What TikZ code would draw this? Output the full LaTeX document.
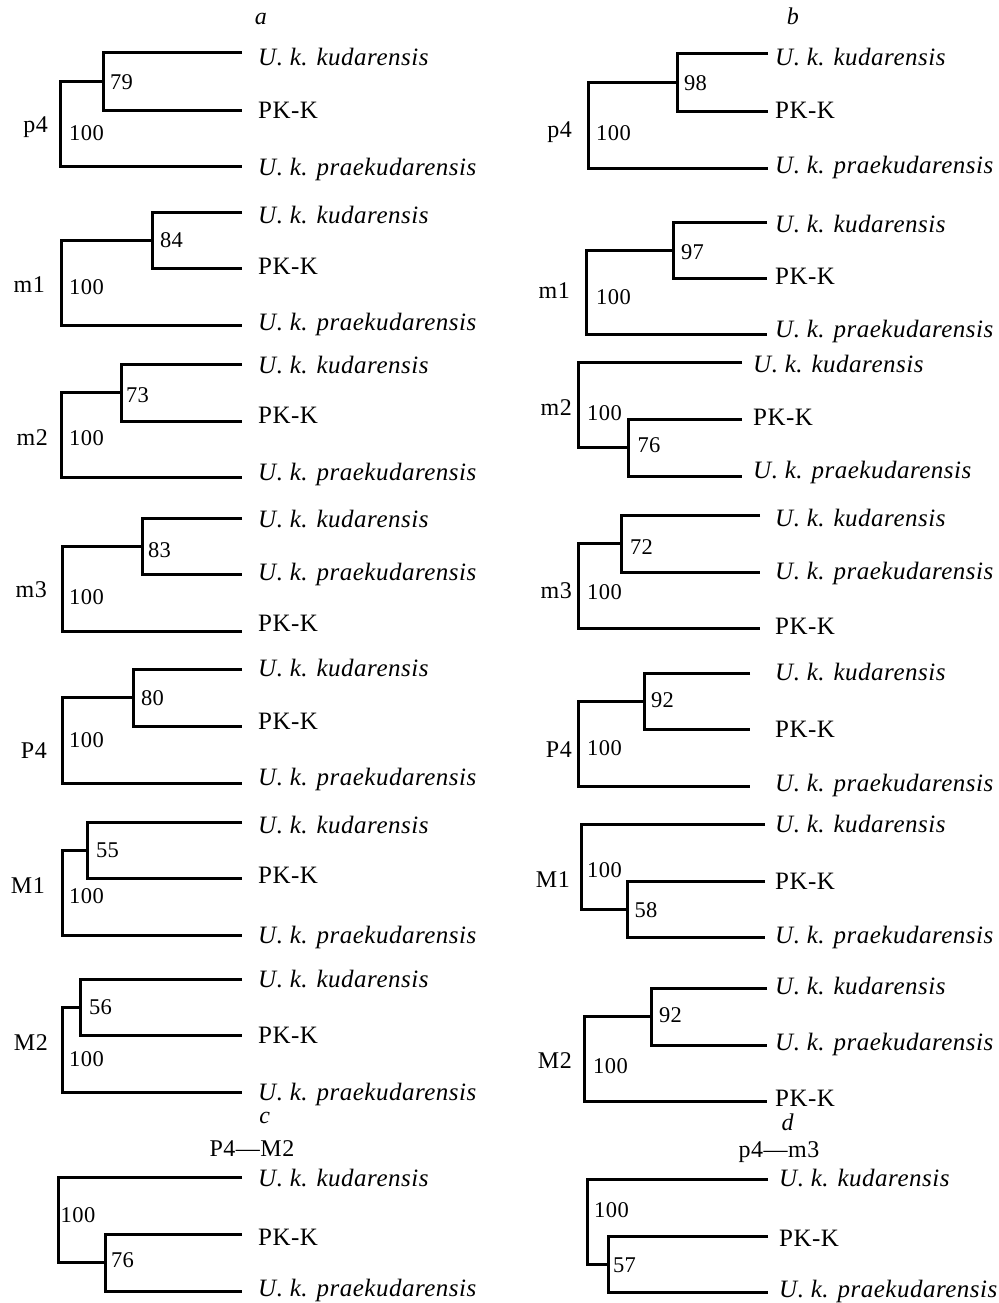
\documentclass[tikz,border=0pt]{standalone}
\usepackage{fontspec}
\setmainfont{Liberation Serif}[LetterSpace=2]
\newcommand\UKK{\textit{U. k. kudarensis}}
\newcommand\UKP{\textit{U. k. praekudarensis}}
\newcommand\PKK{PK-K}
% tips: name, tip end x, label x, y1, y2, y3, baseline offsets b1 b2 b3
\newcommand\tipsAt[9]{%
  \coordinate (#1t1) at (#2,#4);
  \coordinate (#1t2) at (#2,#5);
  \coordinate (#1t3) at (#2,#6);
  \coordinate (#1b1) at (#3,#4+#7);
  \coordinate (#1b2) at (#3,#5+#8);
  \coordinate (#1b3) at (#3,#6+#9);}
% labels: name, three texts
\newcommand\labs[4]{%
  \node[lab] (#1l1) at (#1b1) {#2};
  \node[lab] (#1l2) at (#1b2) {#3};
  \node[lab] (#1l3) at (#1b3) {#4};}
% ((1,2),3): name, xr, xi, yi, yr
\newcommand\treeA[5]{%
  \coordinate (#1i) at (#3,#4);
  \coordinate (#1r) at (#2,#5);
  \draw[br] (#1t1) -| (#1i) |- (#1t2);
  \draw[br] (#1i) -| (#1r) |- (#1t3);}
% (1,(2,3)): name, xr, xi, yi, yr
\newcommand\treeB[5]{%
  \coordinate (#1i) at (#3,#4);
  \coordinate (#1r) at (#2,#5);
  \draw[br] (#1t2) -| (#1i) |- (#1t3);
  \draw[br] (#1t1) -| (#1r) |- (#1i);}
\begin{document}
\begin{tikzpicture}[x=1pt,y=-1pt,
  br/.style={line width=3pt,line join=miter,black},
  lab/.style={anchor=base west,inner sep=0pt,font=\fontsize{25}{25}\selectfont},
  num/.style={anchor=center,inner sep=0pt,font=\fontsize{22.5}{22.5}\selectfont},
  pan/.style={anchor=base east,inner sep=0pt,font=\fontsize{24}{24}\selectfont},
  head/.style={anchor=base,inner sep=0pt,font=\fontsize{24}{24}\selectfont}]
\path[use as bounding box] (0,0) rectangle (998,1303);

% ---------- column a ----------
\node[head] (ha) at (261,25) {\textit{a}};
\tipsAt{ap4}{242}{258}{53}{111}{166}{13}{7}{9}
\labs{ap4}{\UKK}{\PKK}{\UKP}
\treeA{ap4}{60}{103}{82}{124}
\node[num] (ap4n1) at (121.5,82) {79};
\node[num] (ap4n2) at (86.5,133) {100};
\node[pan] (ap4p) at (48,132) {p4};

\tipsAt{am1}{242}{258}{212}{268}{325}{11}{6}{5}
\labs{am1}{\UKK}{\PKK}{\UKP}
\treeA{am1}{61}{152}{240}{282.5}
\node[num] (am1n1) at (171.5,240) {84};
\node[num] (am1n2) at (86.5,287) {100};
\node[pan] (am1p) at (45,292) {m1};

\tipsAt{am2}{242}{258}{364}{421}{477}{9}{2}{3}
\labs{am2}{\UKK}{\PKK}{\UKP}
\treeA{am2}{61}{121}{392.5}{434.75}
\node[num] (am2n1) at (137.5,395) {73};
\node[num] (am2n2) at (86.5,438) {100};
\node[pan] (am2p) at (48,445) {m2};

\tipsAt{am3}{242}{258}{518}{574}{631}{9}{6}{0}
\labs{am3}{\UKK}{\UKP}{\PKK}
\treeA{am3}{62}{142}{546}{588.5}
\node[num] (am3n1) at (159.5,550) {83};
\node[num] (am3n2) at (86.5,597) {100};
\node[pan] (am3p) at (47,597) {m3};

\tipsAt{aP4}{242}{258}{669}{726}{783}{7}{3}{2}
\labs{aP4}{\UKK}{\PKK}{\UKP}
\treeA{aP4}{62}{133}{697.5}{740.25}
\node[num] (aP4n1) at (152.5,698) {80};
\node[num] (aP4n2) at (86.5,740) {100};
\node[pan] (aP4p) at (47,758) {P4};

\tipsAt{aM1}{242}{258}{822}{878}{935}{11}{5}{8}
\labs{aM1}{\UKK}{\PKK}{\UKP}
\treeA{aM1}{62}{87}{850}{892.5}
\node[num] (aM1n1) at (107.5,850) {55};
\node[num] (aM1n2) at (86.5,896) {100};
\node[pan] (aM1p) at (45,893) {M1};

\tipsAt{aM2}{242}{258}{979}{1035}{1092}{8}{8}{8}
\labs{aM2}{\UKK}{\PKK}{\UKP}
\treeA{aM2}{62}{80}{1007}{1049.5}
\node[num] (aM2n1) at (100.5,1007) {56};
\node[num] (aM2n2) at (86.5,1059) {100};
\node[pan] (aM2p) at (48,1050) {M2};

% ---------- column b ----------
\node[head] (hb) at (793,25) {\textit{b}};
\tipsAt{bp4}{768}{775}{54}{112}{168}{12}{7}{5}
\labs{bp4}{\UKK}{\PKK}{\UKP}
\treeA{bp4}{588}{677}{83}{125.5}
\node[num] (bp4n1) at (695.5,83) {98};
\node[num] (bp4n2) at (613.5,133) {100};
\node[pan] (bp4p) at (572,137) {p4};

\tipsAt{bm1}{767}{775}{222}{278}{334}{10}{6}{3}
\labs{bm1}{\UKK}{\PKK}{\UKP}
\treeA{bm1}{586}{673}{250}{292}
\node[num] (bm1n1) at (692.5,252) {97};
\node[num] (bm1n2) at (613.5,297) {100};
\node[pan] (bm1p) at (570,298) {m1};

\tipsAt{bm2}{742}{753}{362}{419}{476}{10}{6}{2}
\labs{bm2}{\UKK}{\PKK}{\UKP}
\treeB{bm2}{578}{628}{447.5}{404.75}
\node[num] (bm2n1) at (604.5,413) {100};
\node[num] (bm2n2) at (649,445) {76};
\node[pan] (bm2p) at (572,415) {m2};

\tipsAt{bm3}{760}{775}{515}{572}{628}{11}{7}{6}
\labs{bm3}{\UKK}{\UKP}{\PKK}
\treeA{bm3}{578}{621}{543.5}{585.75}
\node[num] (bm3n1) at (641.5,547) {72};
\node[num] (bm3n2) at (604.5,592) {100};
\node[pan] (bm3p) at (572,598) {m3};

\tipsAt{bP4}{750}{775}{673}{729}{786}{7}{8}{5}
\labs{bP4}{\UKK}{\PKK}{\UKP}
\treeA{bP4}{578}{644}{701}{743.5}
\node[num] (bP4n1) at (662.5,700) {92};
\node[num] (bP4n2) at (604.5,748) {100};
\node[pan] (bP4p) at (572,757) {P4};

\tipsAt{bM1}{765}{775}{824}{881}{937}{8}{8}{6}
\labs{bM1}{\UKK}{\PKK}{\UKP}
\treeB{bM1}{581}{627}{909}{866.5}
\node[num] (bM1n1) at (604.5,870) {100};
\node[num] (bM1n2) at (646,910) {58};
\node[pan] (bM1p) at (570,887) {M1};

\tipsAt{bM2}{767}{775}{988}{1045}{1101}{6}{5}{5}
\labs{bM2}{\UKK}{\UKP}{\PKK}
\treeA{bM2}{584}{651}{1016.5}{1058.75}
\node[num] (bM2n1) at (670.5,1015) {92};
\node[num] (bM2n2) at (610.5,1066) {100};
\node[pan] (bM2p) at (572,1068) {M2};

% ---------- c ----------
\node[head] (hc) at (265,1123) {\textit{c}};
\node[head] (hc2) at (252,1156) {P4---M2};
\tipsAt{cc}{242}{258}{1177}{1234}{1291}{9}{11}{5}
\labs{cc}{\UKK}{\PKK}{\UKP}
\treeB{cc}{58}{105}{1262.5}{1219.75}
\node[num] (ccn1) at (78,1215) {100};
\node[num] (ccn2) at (122.5,1260) {76};

% ---------- d ----------
\node[head] (hd) at (788,1130) {\textit{d}};
\node[head] (hd2) at (779,1157) {p4---m3};
\tipsAt{dd}{768}{779}{1179}{1236}{1292}{7}{10}{5}
\labs{dd}{\UKK}{\PKK}{\UKP}
\treeB{dd}{587}{608}{1264}{1221.5}
\node[num] (ddn1) at (611.5,1210) {100};
\node[num] (ddn2) at (624.5,1265) {57};
\end{tikzpicture}
\end{document}
